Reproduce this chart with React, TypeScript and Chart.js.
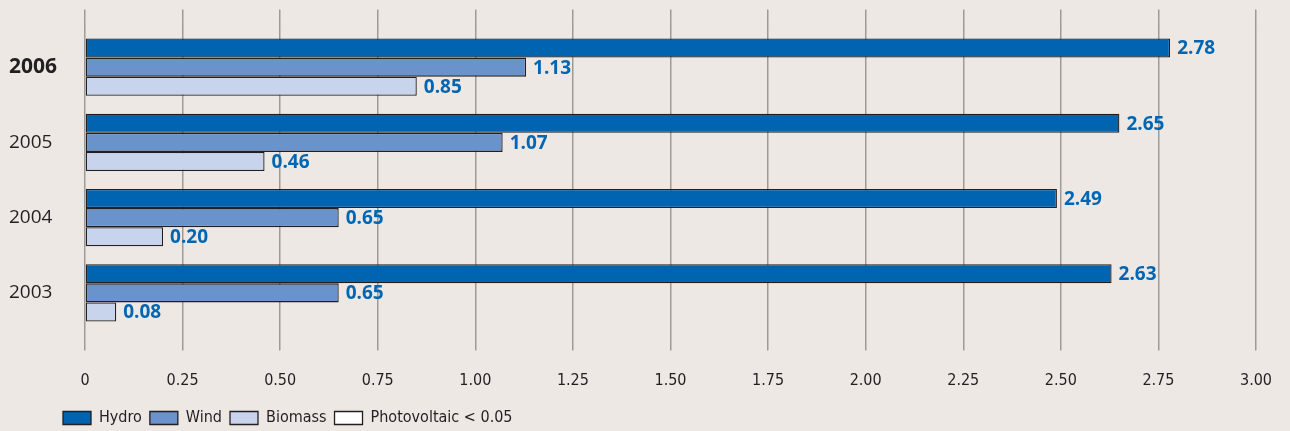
import React, { useEffect, useRef } from 'react';
import { Chart, registerables } from 'chart.js';

Chart.register(...registerables);

const categories = ['2006', '2005', '2004', '2003'];
const hydro = [2.78, 2.65, 2.49, 2.63];
const wind = [1.13, 1.07, 0.65, 0.65];
const biomass = [0.85, 0.46, 0.2, 0.08];
const photovoltaic: (number | null)[] = [null, null, null, null];
const seriesNames = ['Hydro', 'Wind', 'Biomass', 'Photovoltaic < 0.05'];
const xMin = 0;
const xMax = 3;
const xStep = 0.25;

const BG = '#ede8e4';
const GRID = '#9e9a96';
const TEXT = '#231f20';
const LABEL_BLUE = '#0066b3';
const COLORS = ['#0064b0', '#6a92cb', '#c8d4ec', '#ffffff'];
const FONT_C = "'Liberation Sans Narrow', 'DejaVu Sans Condensed', 'Roboto Condensed', 'Liberation Sans', sans-serif";
const FONT_W = "'Open Sans', 'Noto Sans', sans-serif";

export default function App() {
  const ref = useRef<HTMLCanvasElement>(null);

  useEffect(() => {
    if (!ref.current) return;

    const valueLabels = {
      id: 'valueLabels',
      afterDatasetsDraw(chart: any) {
        const ctx = chart.ctx;
        ctx.save();
        ctx.font = `bold 19px ${FONT_W}`;
        ctx.fillStyle = LABEL_BLUE;
        ctx.textBaseline = 'middle';
        ctx.textAlign = 'left';
        chart.data.datasets.forEach((ds: any, di: number) => {
          const meta = chart.getDatasetMeta(di);
          if (meta.hidden) return;
          meta.data.forEach((el: any, i: number) => {
            const v = ds.data[i];
            if (v === null || v === undefined) return;
            ctx.fillText(Number(v).toFixed(2), el.x + 7, el.y + 1);
          });
        });
        ctx.restore();
      },
    };

    const legendShift = {
      id: 'legendShift',
      afterLayout(chart: any) {
        const lg = chart.legend;
        if (!lg) return;
        const w = lg.right - lg.left;
        lg.left = 55;
        lg.right = 55 + w;
        lg.top += 5;
        lg.bottom += 5;
      },
    };

    const data = [hydro, wind, biomass, photovoltaic];

    const chart = new Chart(ref.current, {
      type: 'bar',
      data: {
        labels: categories,
        datasets: seriesNames.map((name, i) => ({
          label: name,
          data: data[i],
          backgroundColor: COLORS[i],
          borderColor: TEXT,
          borderWidth: 1.3,
          borderSkipped: false,
          categoryPercentage: 0.76,
          barPercentage: 1,
          skipNull: true,
        })),
      },
      options: {
        indexAxis: 'y',
        animation: false,
        responsive: true,
        maintainAspectRatio: false,
        layout: { padding: { left: 9, right: 34, top: 0, bottom: 0 } },
        plugins: {
          tooltip: { enabled: false },
          legend: {
            position: 'bottom',
            align: 'start',
            labels: {
              boxWidth: 28,
              boxHeight: 13,
              padding: 8,
              color: TEXT,
              font: { family: FONT_C, size: 16 },
            },
          },
        },
        scales: {
          x: {
            type: 'linear',
            position: 'bottom',
            min: xMin,
            max: xMax,
            ticks: {
              stepSize: xStep,
              autoSkip: false,
              maxRotation: 0,
              padding: 21,
              color: TEXT,
              font: { family: FONT_C, size: 16 },
              callback: (v: any) => (Number(v) === 0 ? '0' : Number(v).toFixed(2)),
            },
            grid: { color: GRID, lineWidth: 1.5, tickLength: 20, drawTicks: true },
            border: { display: false },
            afterFit: (s: any) => {
              s.height = 66.5;
              s.paddingLeft = 0;
              s.paddingRight = 0;
            },
          },
          x2: {
            type: 'linear',
            position: 'top',
            display: true,
            min: xMin,
            max: xMax,
            ticks: { stepSize: xStep, display: false },
            grid: { color: GRID, lineWidth: 1.5, tickLength: 20, drawOnChartArea: false },
            border: { display: false },
            afterFit: (s: any) => {
              s.height = 29.5;
              s.paddingLeft = 0;
              s.paddingRight = 0;
            },
          },
          y: {
            type: 'category',
            ticks: {
              crossAlign: 'far',
              color: TEXT,
              font: (c: any) => ({
                family: FONT_W,
                size: c.index === 0 ? 21 : 19,
                weight: c.index === 0 ? 'bold' : 'normal',
              }),
            },
            grid: { display: false },
            border: { display: false },
            afterFit: (s: any) => {
              s.width = 76;
            },
          },
        },
      },
      plugins: [valueLabels, legendShift],
    } as any);

    return () => chart.destroy();
  }, []);

  return (
    <div style={{ position: 'fixed', left: 0, top: 0, width: 1290, height: 431, background: BG }}>
      <canvas ref={ref} />
    </div>
  );
}
